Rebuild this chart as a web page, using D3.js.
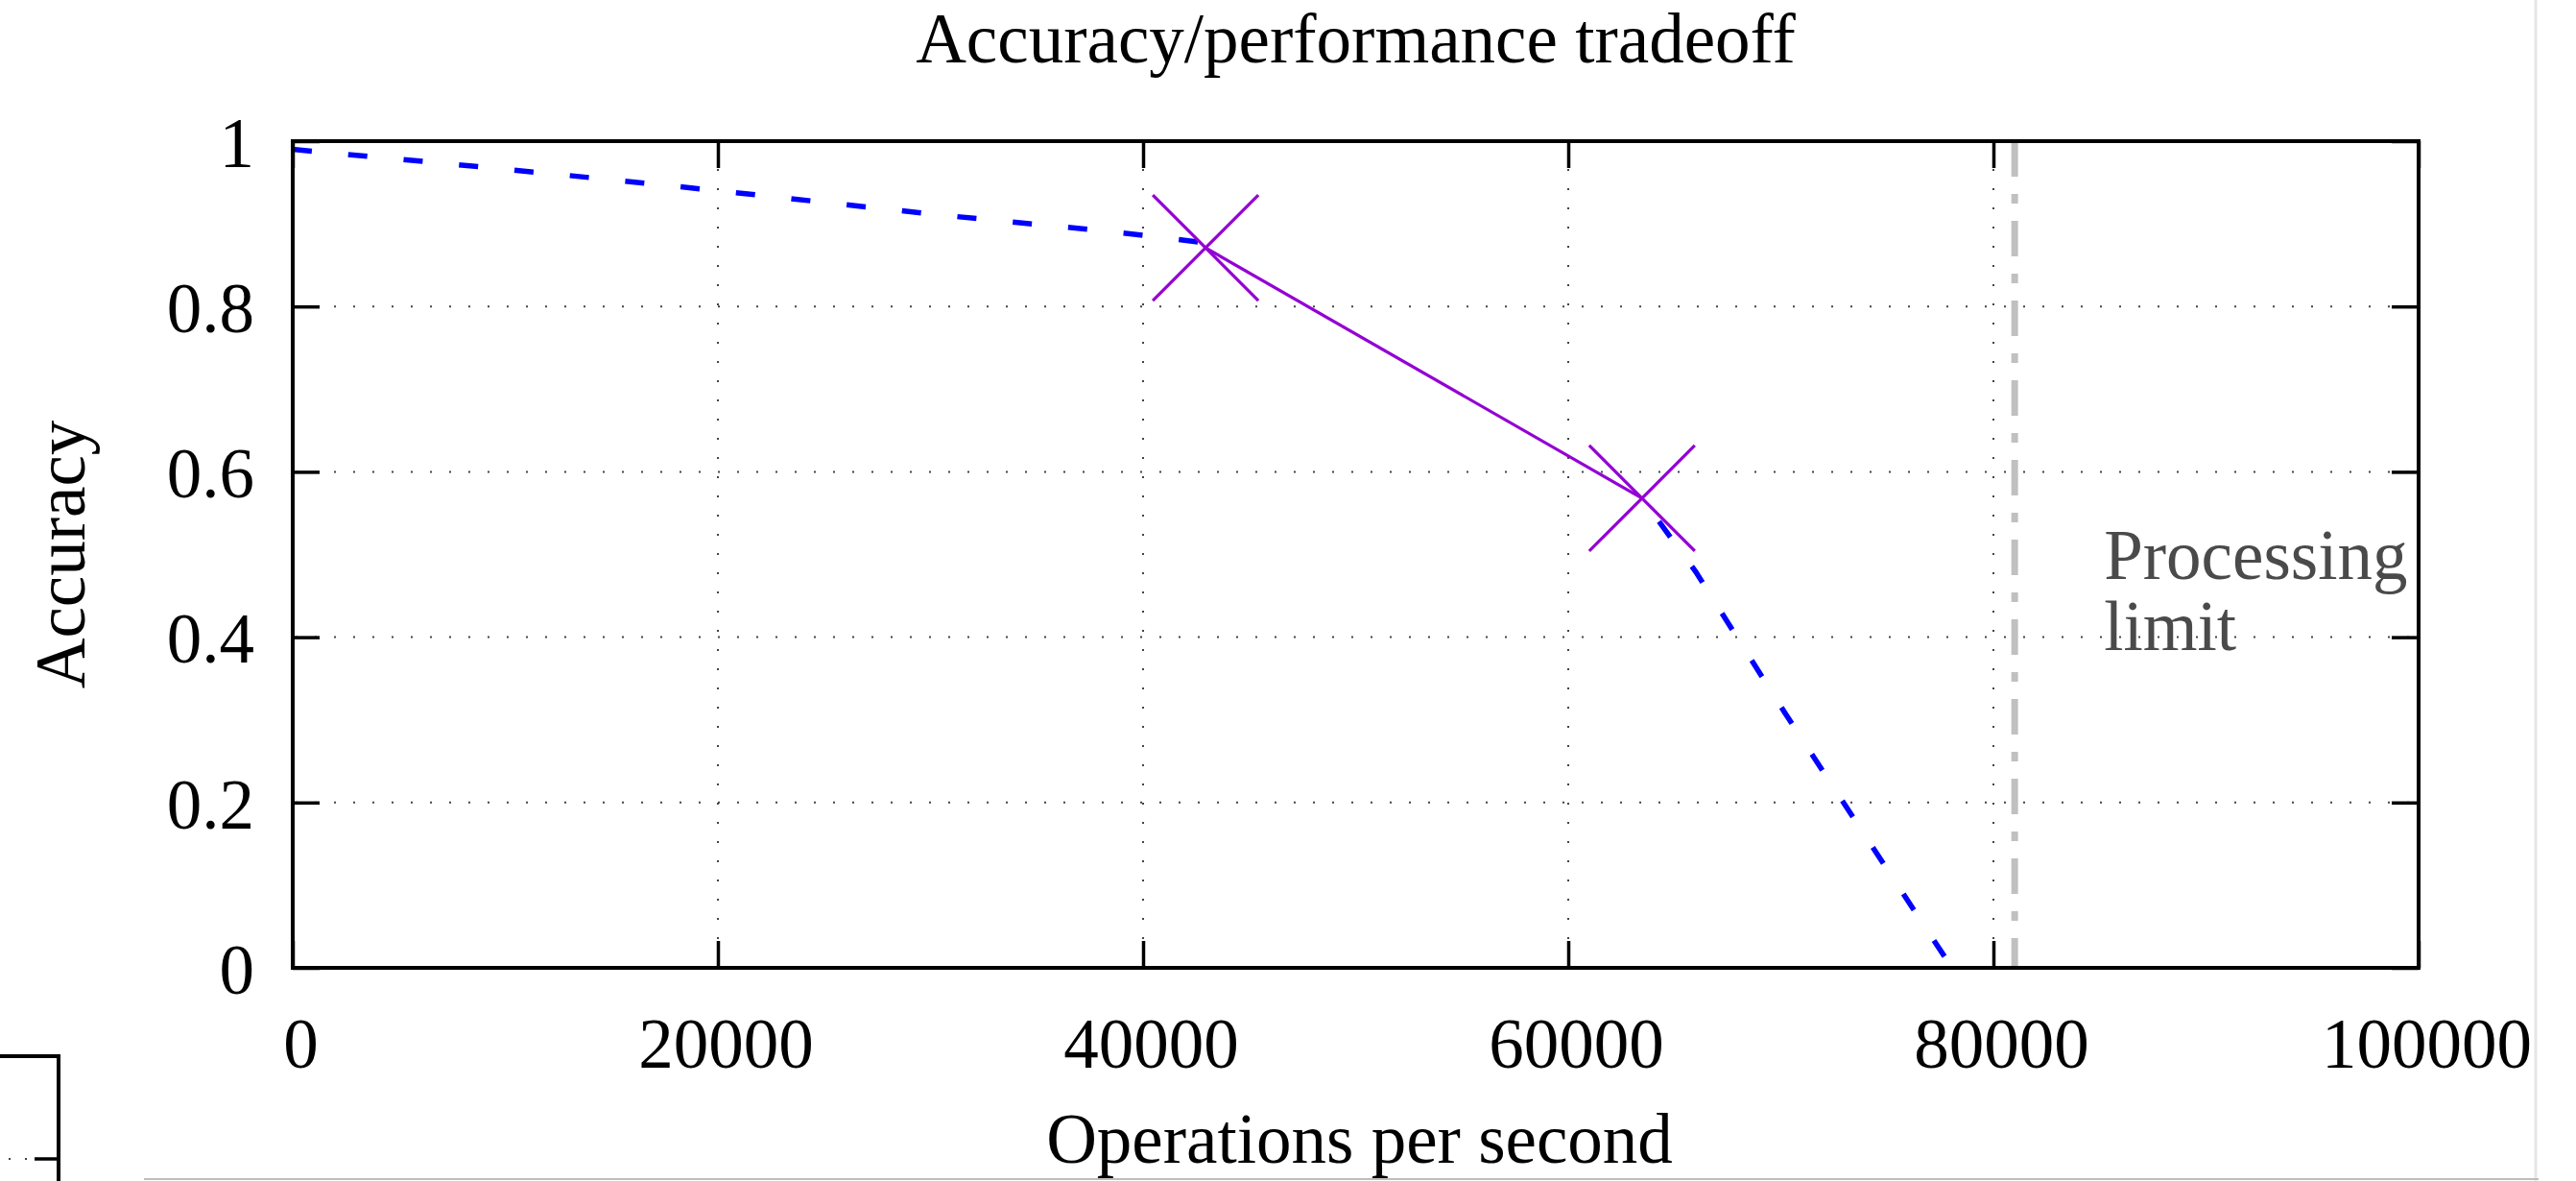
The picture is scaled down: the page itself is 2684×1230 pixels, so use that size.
<!DOCTYPE html>
<html>
<head>
<meta charset="utf-8">
<script src="https://cdn.jsdelivr.net/npm/d3@7"></script>
<style>
  body { margin: 0; background: #fff; }
  svg { display: block; }
  text { font-family: "Liberation Serif", "Times New Roman", serif; }
</style>
</head>
<body>
<svg id="chart" width="2684" height="1230"></svg>
<script>
// tick values
const opsTicks = [0, 20000, 40000, 60000, 80000, 100000];
const accTicks = [0, 0.2, 0.4, 0.6, 0.8, 1];

// model curve (blue dashed), drawn in two pieces
const modelHighOps = [0, 10000, 20000, 30000, 40000, 42900];
const modelHighAcc = [0.99, 0.966, 0.94, 0.912, 0.886, 0.877];
const modelLowOps = [63470, 66000, 70200, 74650, 78050];
const modelLowAcc = [0.568, 0.479, 0.308, 0.133, 0];

// measured points (purple crosses)
const measuredOps = [42940, 63470];
const measuredAcc = [0.871, 0.568];

// vertical limit
const processingLimit = 81000;
const limitLabel = ['Processing', 'limit'];

const svg = d3.select('#chart');
const margin = { top: 147, right: 164, bottom: 222, left: 305 };
const width = +svg.attr('width') - margin.left - margin.right;
const height = +svg.attr('height') - margin.top - margin.bottom;
const fontSize = 73;

const x = d3.scaleLinear().domain([0, 100000]).range([0, width]);
const y = d3.scaleLinear().domain([0, 1]).range([height, 0]);

const g = svg.append('g').attr('transform', 'translate(' + margin.left + ',' + margin.top + ')');

// dotted grid
g.append('g').selectAll('line')
  .data(opsTicks.slice(1, -1))
  .enter().append('line')
  .attr('x1', d => x(d)).attr('x2', d => x(d))
  .attr('y1', 0).attr('y2', height)
  .attr('stroke', '#444').attr('stroke-width', 2)
  .attr('stroke-dasharray', '2,18').attr('stroke-dashoffset', -9);

g.append('g').selectAll('line')
  .data(accTicks.slice(1, -1))
  .enter().append('line')
  .attr('x1', 0).attr('x2', width)
  .attr('y1', d => y(d)).attr('y2', d => y(d))
  .attr('stroke', '#444').attr('stroke-width', 2)
  .attr('stroke-dasharray', '2,18').attr('stroke-dashoffset', -3);

// processing limit line
g.append('line')
  .attr('x1', x(processingLimit)).attr('x2', x(processingLimit))
  .attr('y1', y(1)).attr('y2', y(0))
  .attr('stroke', '#c0c0c0').attr('stroke-width', 7)
  .attr('stroke-dasharray', '37,18,10,18');

g.append('text')
  .attr('x', x(85200))
  .attr('y', y(0.47))
  .attr('fill', '#4a4a4a')
  .attr('font-size', fontSize)
  .selectAll('tspan')
  .data(limitLabel)
  .enter().append('tspan')
  .attr('x', x(85200))
  .attr('dy', (d, i) => i === 0 ? 0 : 74)
  .text(d => d);

// model curve
const line = d3.line().x(d => x(d[0])).y(d => y(d[1]));
const highPts = modelHighOps.map((v, i) => [v, modelHighAcc[i]]);
const lowPts = modelLowOps.map((v, i) => [v, modelLowAcc[i]]);

g.append('path')
  .datum(highPts)
  .attr('d', line.curve(d3.curveMonotoneX))
  .attr('fill', 'none')
  .attr('stroke', '#0000ff').attr('stroke-width', 5.5)
  .attr('stroke-dasharray', '20,38');

g.append('path')
  .datum(lowPts)
  .attr('d', line.curve(d3.curveLinear))
  .attr('fill', 'none')
  .attr('stroke', '#0000ff').attr('stroke-width', 5.5)
  .attr('stroke-dasharray', '20,38')
  .attr('stroke-dashoffset', -30);

// measured line + crosses
const measPts = measuredOps.map((v, i) => [v, measuredAcc[i]]);
g.append('path')
  .datum(measPts)
  .attr('d', d3.line().x(d => x(d[0])).y(d => y(d[1])))
  .attr('fill', 'none')
  .attr('stroke', '#9400d3').attr('stroke-width', 3.2);

const arm = 55;
g.append('g').selectAll('path')
  .data(measPts)
  .enter().append('path')
  .attr('d', d => {
    const cx = x(d[0]), cy = y(d[1]);
    return 'M' + (cx - arm) + ',' + (cy - arm) + 'L' + (cx + arm) + ',' + (cy + arm) +
           'M' + (cx + arm) + ',' + (cy - arm) + 'L' + (cx - arm) + ',' + (cy + arm);
  })
  .attr('fill', 'none')
  .attr('stroke', '#9400d3').attr('stroke-width', 3.2);

// axes, ticks inward on all four sides
function styleAxis(s) {
  s.select('.domain').remove();
  s.selectAll('line').attr('stroke', '#000').attr('stroke-width', 3.5);
  s.selectAll('text')
    .attr('font-size', fontSize)
    .attr('font-family', '"Liberation Serif", "Times New Roman", serif')
    .attr('fill', '#000');
}

g.append('g')
  .attr('transform', 'translate(0,' + height + ')')
  .call(d3.axisBottom(x).tickValues(opsTicks).tickSize(-28).tickSizeOuter(0)
    .tickPadding(52).tickFormat(d3.format('d')))
  .call(styleAxis)
  .call(s => s.selectAll('text').attr('dx', 8));

g.append('g')
  .call(d3.axisLeft(y).tickValues(accTicks).tickSize(-28).tickSizeOuter(0)
    .tickPadding(40).tickFormat(d3.format('~g')))
  .call(styleAxis)
  .call(s => s.selectAll('text').attr('dy', '0.36em'));

g.append('g')
  .call(d3.axisTop(x).tickValues(opsTicks).tickSize(-28).tickSizeOuter(0).tickFormat(() => ''))
  .call(styleAxis);

g.append('g')
  .attr('transform', 'translate(' + width + ',0)')
  .call(d3.axisRight(y).tickValues(accTicks).tickSize(-28).tickSizeOuter(0).tickFormat(() => ''))
  .call(styleAxis);

// border
g.append('rect')
  .attr('x', 0).attr('y', 0)
  .attr('width', width).attr('height', height)
  .attr('fill', 'none')
  .attr('stroke', '#000').attr('stroke-width', 4);

// titles
svg.append('text')
  .attr('x', margin.left + width / 2)
  .attr('y', 65)
  .attr('text-anchor', 'middle')
  .attr('font-size', fontSize)
  .text('Accuracy/performance tradeoff');

svg.append('text')
  .attr('x', margin.left + width / 2 + 4)
  .attr('y', 1211)
  .attr('text-anchor', 'middle')
  .attr('font-size', fontSize)
  .text('Operations per second');

svg.append('text')
  .attr('transform', 'translate(88,' + (margin.top + height / 2) + ') rotate(-90)')
  .attr('text-anchor', 'middle')
  .attr('font-size', fontSize)
  .text('Accuracy');

// page edges seen in the screenshot
svg.append('rect')
  .attr('x', 2643).attr('y', 0).attr('width', 41).attr('height', 1230)
  .attr('fill', '#fff');
svg.append('line')
  .attr('x1', 2642).attr('x2', 2642).attr('y1', 0).attr('y2', 1230)
  .attr('stroke', '#e6e6e6').attr('stroke-width', 3);
svg.append('line')
  .attr('x1', 150).attr('x2', 2645).attr('y1', 1228).attr('y2', 1228)
  .attr('stroke', '#bdbdbd').attr('stroke-width', 2);

// corner of another figure, bottom left
const corner = svg.append('g').attr('stroke', '#000');
corner.append('path')
  .attr('d', 'M0,1100H61V1230')
  .attr('fill', 'none').attr('stroke-width', 4);
corner.append('line')
  .attr('x1', 36).attr('x2', 61).attr('y1', 1207).attr('y2', 1207)
  .attr('stroke-width', 3.5);
corner.append('line')
  .attr('x1', 9).attr('x2', 30).attr('y1', 1207).attr('y2', 1207)
  .attr('stroke', '#444').attr('stroke-width', 2).attr('stroke-dasharray', '2,15');
</script>
</body>
</html>
